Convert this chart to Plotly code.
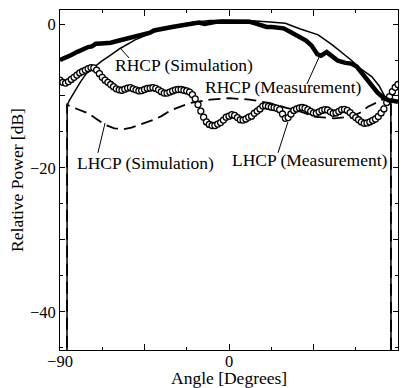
import plotly.graph_objects as go

# ---------------- data ----------------
# RHCP simulation (thin solid)
rhcp_sim_angle = [-86.3, -86.2, -85, -82, -79, -76, -72, -68, -64, -58, -50, -44, -38, -30, -20, -10, 0,
                  10, 20, 30, 38, 44, 47.5, 55, 60, 65, 70, 76, 80, 83, 85, 86.2, 86.3]
rhcp_sim_db = [-60, -11.3, -10.6, -9.2, -8.0, -6.9, -6.0, -5.2, -4.5, -3.4, -2.2, -1.5, -0.9, -0.3, 0.2, 0.5, 0.55,
               0.5, 0.3, 0.1, -0.7, -1.2, -1.5, -2.9, -3.9, -5.0, -6.2, -7.3, -8.6, -10.1, -10.7, -11.0, -60]

# LHCP simulation (dashed)
lhcp_sim_angle = [-86.3, -86.2, -84, -80, -75, -70, -66, -61, -56, -52, -45, -40, -36, -31, -21, -10, 0,
                  11, 22, 31, 35, 46, 56, 65, 70, 74, 81, 85, 86.2, 86.3]
lhcp_sim_db = [-60, -11.2, -11.5, -11.9, -12.4, -13.3, -14.0, -14.5, -14.6, -14.4, -13.8, -13.3, -12.8, -12.0, -11.0, -10.5, -10.3,
               -10.5, -11.0, -11.7, -11.9, -12.9, -13.1, -12.9, -12.3, -11.5, -10.6, -10.1, -10.0, -60]

# RHCP measurement (thick solid)
rhcp_meas_angle = [-90, -87, -84, -81, -78, -75, -73, -71, -68, -65, -63, -60, -57, -54, -51, -48, -45, -42, -40,
                   -37, -34, -31, -28, -25, -22, -19, -16, -13, -10, -7, -4, -1, 2, 5, 8, 11, 14, 17, 20, 23,
                   26, 29, 32, 35, 38, 41, 44, 47, 49, 52, 55, 58, 62, 65, 68, 70, 73, 76, 79, 82, 85, 88, 90]
rhcp_meas_db = [-5.0, -4.7, -4.3, -3.9, -3.5, -3.2, -3.1, -2.75, -2.7, -2.65, -2.6, -2.4, -2.2, -2.1, -1.9, -1.6, -1.4, -1.2, -0.9,
                -0.7, -0.5, -0.45, -0.3, -0.15, -0.1, 0.1, 0.2, 0.0, 0.2, 0.3, 0.35, 0.35, 0.3, 0.3, 0.35, 0.3, 0.1, -0.2, -0.4, -0.4,
                -0.5, -0.6, -1.0, -1.4, -1.8, -2.3, -3.0, -4.2, -4.4, -3.9, -4.5, -5.1, -5.4, -5.5, -5.9, -6.6, -7.6, -8.6, -9.5, -10.2, -10.6, -10.7, -10.8]

# LHCP measurement (open circles), every 1.5 degrees from -90 to 90
lhcp_meas_angle = [-90 + 1.5 * i for i in range(121)]
lhcp_meas_db = [-7.8, -8.1, -8.2, -8.0, -7.7, -7.4, -7.1, -6.8, -6.6, -6.4,
                -6.2, -6.05, -6.1, -6.4, -6.9, -7.4, -7.8, -8.1, -8.4, -8.7,
                -9.0, -9.15, -9.2, -9.05, -8.9, -8.85, -9.0, -9.15, -9.3, -9.25,
                -9.1, -8.95, -8.9, -8.85, -8.95, -9.15, -9.4, -9.6, -9.6, -9.45,
                -9.3, -9.15, -9.1, -9.1, -9.2, -9.3, -9.45, -9.8, -10.4, -11.2,
                -12.1, -12.95, -13.6, -13.95, -14.1, -14.1, -13.9, -13.7, -13.35, -12.95,
                -12.8,
                -12.6, -12.7, -13.0, -13.3, -13.35, -13.2, -12.95, -12.8, -12.4, -12.1,
                -11.8, -11.4, -11.35, -11.45, -11.55, -11.6, -11.7, -11.9, -12.5, -13.1,
                -13.0, -12.5, -12.0, -11.8, -11.65, -11.6, -11.7, -11.9, -12.15, -12.35,
                -12.4, -12.2, -12.0, -11.9, -11.95, -12.2, -12.4, -12.35, -12.15, -11.9,
                -11.85, -12.0, -12.3, -12.7, -13.0, -13.3, -13.6, -13.8, -13.75, -13.6,
                -13.4, -13.2, -12.85, -12.35, -11.8, -10.9, -10.1, -9.4, -8.8, -8.4]

# tick labels
x_tickvals = [-90, -45, 0, 45, 90]
x_ticktext = ["\u221290", "", "0", "", "90"]
y_tickvals = [0, -10, -20, -30, -40]
y_ticktext = ["0", "", "\u221220", "", "\u221240"]

# labels: (text, angle of left edge, dB of middle)
labels = [("RHCP (Simulation)", -61.8, -5.7),
          ("RHCP (Measurement)", -13.7, -8.7),
          ("LHCP (Simulation)", -82.0, -19.35),
          ("LHCP (Measurement)", 0.5, -18.9)]
# leader lines: (x0, y0, x1, y1) in data units
leaders = [(-58.0, -3.33, -53.2, -4.72),
           (48.5, -4.3, 41.5, -8.33),
           (-66.0, -13.75, -69.8, -17.9),
           (31.4, -13.6, 26.1, -17.9)]

FONT = "Liberation Serif"

fig = go.Figure()
fig.add_trace(go.Scatter(x=rhcp_sim_angle, y=rhcp_sim_db, mode="lines",
                         line=dict(color="black", width=1.5), name="RHCP (Simulation)"))
fig.add_trace(go.Scatter(x=lhcp_sim_angle, y=lhcp_sim_db, mode="lines",
                         line=dict(color="black", width=1.8, dash="12px,6px"), name="LHCP (Simulation)"))
fig.add_trace(go.Scatter(x=lhcp_meas_angle, y=lhcp_meas_db, mode="markers",
                         marker=dict(symbol="circle", size=6, color="white",
                                     line=dict(color="black", width=1.3)),
                         name="LHCP (Measurement)", cliponaxis=True))
fig.add_trace(go.Scatter(x=rhcp_meas_angle, y=rhcp_meas_db, mode="lines",
                         line=dict(color="black", width=4.5), name="RHCP (Measurement)"))

for text, ax_, ay_ in labels:
    fig.add_annotation(x=ax_, y=ay_, xref="x", yref="y", text=text, showarrow=False,
                       xanchor="left", yanchor="middle",
                       font=dict(family=FONT, size=17.5, color="black"))
for x0, y0, x1, y1 in leaders:
    fig.add_shape(type="line", xref="x", yref="y", x0=x0, y0=y0, x1=x1, y1=y1,
                  line=dict(color="black", width=1))

# x-axis title as a paper-anchored text just under the tick labels
fig.add_annotation(x=0.5, y=-0.082, xref="paper", yref="paper", text="Angle [Degrees]",
                   showarrow=False, xanchor="center", yanchor="middle",
                   font=dict(family=FONT, size=17.5, color="black"))

fig.update_layout(
    width=405, height=388,
    margin=dict(l=60, r=7, t=10, b=38, autoexpand=False),
    paper_bgcolor="white", plot_bgcolor="white",
    showlegend=False,
    font=dict(family=FONT, size=16.5, color="black"),
    xaxis=dict(range=[-90, 90], showline=True, linecolor="black", linewidth=1, mirror="ticks",
               ticks="inside", ticklen=6, tickwidth=1, tickcolor="black",
               tickvals=x_tickvals, ticktext=x_ticktext, showgrid=False, zeroline=False,
               minor=dict(tick0=-90, dtick=22.5, ticks="inside", ticklen=3, tickcolor="black", showgrid=False),
               tickfont=dict(family=FONT, size=16.5), ticklabelstandoff=-4, automargin=False),
    yaxis=dict(range=[-45.3, 1.95], showline=True, linecolor="black", linewidth=1, mirror="ticks",
               ticks="inside", ticklen=5, tickwidth=1, tickcolor="black",
               tickvals=y_tickvals, ticktext=y_ticktext, showgrid=False, zeroline=False,
               minor=dict(tick0=0, dtick=5, ticks="inside", ticklen=3, tickcolor="black", showgrid=False),
               title=dict(text="Relative Power [dB]", font=dict(family=FONT, size=17.5), standoff=1),
               tickfont=dict(family=FONT, size=16.5), automargin=False),
)

fig.write_html("out.html", config={"displayModeBar": False},
               post_script="document.body.style.margin='0';document.body.style.padding='0';")
